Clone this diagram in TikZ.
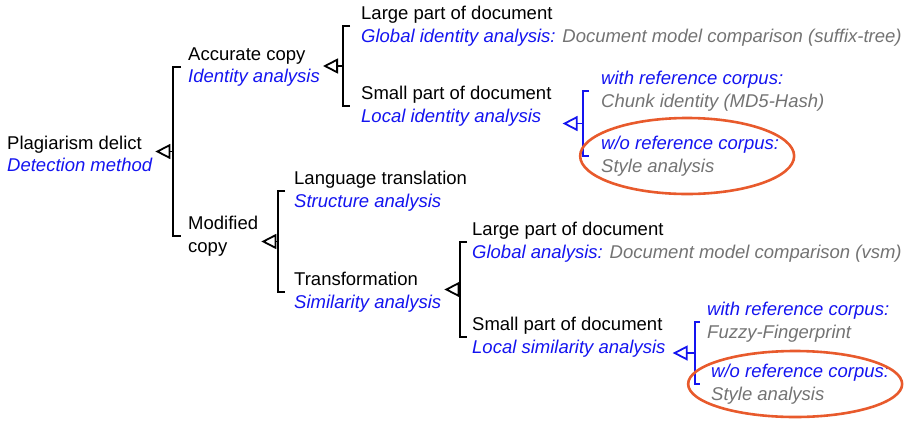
\documentclass[tikz,border=0pt]{standalone}
\usepackage{fontspec}
\setmainfont{Liberation Sans}
\usetikzlibrary{arrows.meta, calc}

\definecolor{hint}{RGB}{20,20,240}
\definecolor{note}{RGB}{115,115,115}
\definecolor{ring}{RGB}{232,90,44}

\tikzset{
  item/.style={anchor=west, align=left, inner sep=3pt,
    font=\fontsize{18.5}{22.5}\selectfont},
  brk/.style={line width=1.8pt},
  tri/.style={line width=1.8pt, -{Triangle[open,length=15pt,width=15pt]}},
  mark ring/.style={draw=ring, line width=2.6pt}
}
\newcommand{\meth}[1]{\textcolor{hint}{\itshape #1}}
\newcommand{\rem}[1]{\textcolor{note}{\itshape #1}}

\begin{document}
\begin{tikzpicture}[x=1pt,y=-1pt]
  \useasboundingbox (0,0) rectangle (910,424);

  % tree nodes
  \node[item] (root)   at (4,154)   {Plagiarism delict\\\meth{Detection method}};
  \node[item] (acc)    at (185,67)  {Accurate copy\\\meth{Identity analysis}};
  \node[item] (mod)    at (185,236) {Modified\\copy};
  \node[item] (large1) at (358,26)  {Large part of document\\\meth{Global identity analysis:} \rem{Document model comparison (suffix-tree)}};
  \node[item] (small1) at (358,106) {Small part of document\\\meth{Local identity analysis}};
  \node[item] (with1)  at (598,91)  {\meth{with reference corpus:}\\\rem{Chunk identity (MD5-Hash)}};
  \node[item] (wo1)    at (598,156) {\meth{w/o reference corpus:}\\\rem{Style analysis}};
  \node[item] (lang)   at (291,191) {Language translation\\\meth{Structure analysis}};
  \node[item] (trans)  at (291,292) {Transformation\\\meth{Similarity analysis}};
  \node[item] (large2) at (469,242) {Large part of document\\\meth{Global analysis:} \rem{Document model comparison (vsm)}};
  \node[item] (small2) at (469,337) {Small part of document\\\meth{Local similarity analysis}};
  \node[item] (with2)  at (704,322) {\meth{with reference corpus:}\\\rem{Fuzzy-Fingerprint}};
  \node[item] (wo2)    at (708,384) {\meth{w/o reference corpus:}\\\rem{Style analysis}};

  % brackets
  \draw[brk] ([xshift=-4]acc.west) -- ++(-8,0) coordinate (r1) -- (r1 |- mod.west) coordinate (r2) -- ([xshift=-4]mod.west);
  \draw[brk] ([xshift=-8]large1.west) -- ++(-7,0) coordinate (a1) -- (a1 |- small1.west) coordinate (a2) -- ([xshift=-8]small1.west);
  \draw[brk,hint] ([xshift=-9]with1.west) -- ++(-6,0) coordinate (c1) -- (c1 |- wo1.west) coordinate (c2) -- ([xshift=-9]wo1.west);
  \draw[brk] ([xshift=-6]lang.west) -- ++(-7,0) coordinate (m1) -- (m1 |- trans.west) coordinate (m2) -- ([xshift=-6]trans.west);
  \draw[brk] ([xshift=-2]large2.west) -- ++(-7,0) coordinate (t1) -- (t1 |- small2.west) coordinate (t2) -- ([xshift=-2]small2.west);
  \draw[brk,hint] ([xshift=-4]with2.west) -- ++(-5,0) coordinate (s1) -- (s1 |- wo2.west) coordinate (s2) -- ([xshift=-8]wo2.west);

  % arrows to the parent
  \coordinate (rm) at ($(r1)!0.5!(r2)$);
  \coordinate (am) at ($(a1)!0.5!(a2)$);
  \coordinate (cm) at ($(c1)!0.5!(c2)$);
  \coordinate (mm) at ($(m1)!0.5!(m2)$);
  \coordinate (tm) at ($(t1)!0.5!(t2)$);
  \coordinate (sm) at ($(s1)!0.5!(s2)$);
  \draw[tri] (rm) -- (rm -| root.east);
  \draw[tri] (am) -- (am -| acc.east);
  \draw[tri,hint] (cm) -- ([xshift=8]cm -| small1.east);
  \draw[tri] (mm) -- (mm -| mod.east);
  \draw[tri] (tm) -- (tm -| trans.east);
  \draw[tri,hint] (sm) -- ([xshift=4]sm -| small2.east);

  % highlighted leaves
  \draw[mark ring] ([xshift=-3]wo1.center) ellipse [x radius=107, y radius=38];
  \draw[mark ring] ([xshift=-5]wo2.center) ellipse [x radius=107, y radius=33];
\end{tikzpicture}
\end{document}
